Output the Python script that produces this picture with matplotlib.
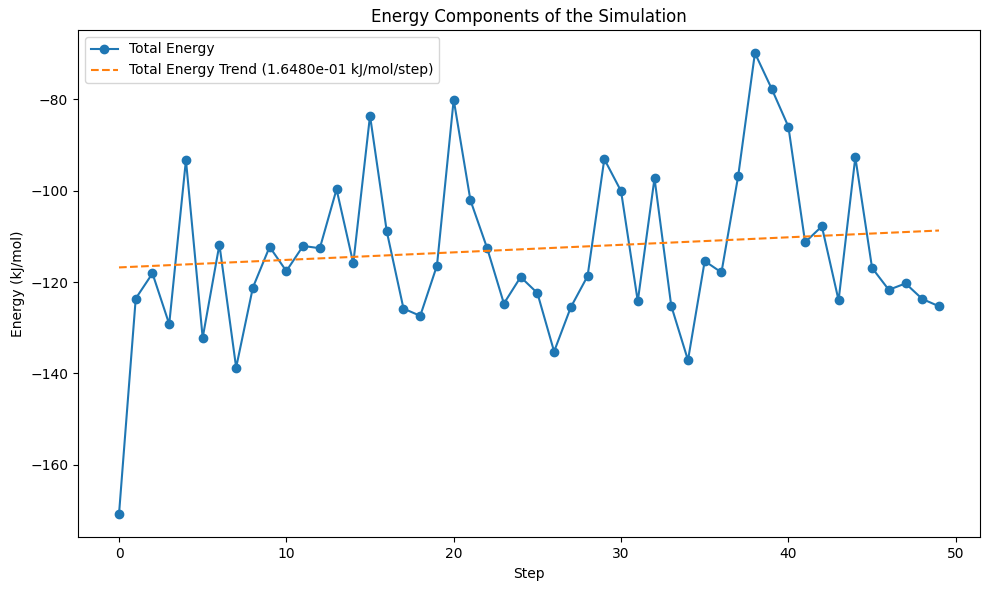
import numpy as np
import matplotlib
matplotlib.use("Agg")
import matplotlib.pyplot as plt

steps = list(range(50))
total_energy = [-170.8, -123.6, -118.1, -129.2, -93.3, -132.2, -111.8, -138.7, -121.2, -112.3,
                -117.6, -112.1, -112.6, -99.7, -115.9, -83.6, -108.9, -125.8, -127.4, -116.4,
                -80.1, -102.1, -112.6, -124.7, -118.9, -122.4, -135.2, -125.5, -118.7, -93.1,
                -100.1, -124.2, -97.3, -125.2, -137.1, -115.4, -117.9, -96.8, -69.9, -77.7,
                -86.0, -111.3, -107.8, -124.0, -92.7, -116.9, -121.7, -120.3, -123.7, -125.3]
trend_slope = 0.1648
trend_intercept = -116.8

x = np.array(steps)
y = np.array(total_energy)

fig, ax = plt.subplots(figsize=(9.89, 5.9), dpi=100)
ax.plot(x, y, marker='o', label='Total Energy')
ax.plot(x, trend_slope * x + trend_intercept, linestyle='--',
        label=f'Total Energy Trend ({trend_slope:.4e} kJ/mol/step)')
ax.set_title('Energy Components of the Simulation')
ax.set_xlabel('Step')
ax.set_ylabel('Energy (kJ/mol)')
ax.legend(loc='upper left')
fig.subplots_adjust(left=78/989, right=980/989, top=1-30/590, bottom=1-537.3/590)
fig.savefig('out.png', dpi=100)
